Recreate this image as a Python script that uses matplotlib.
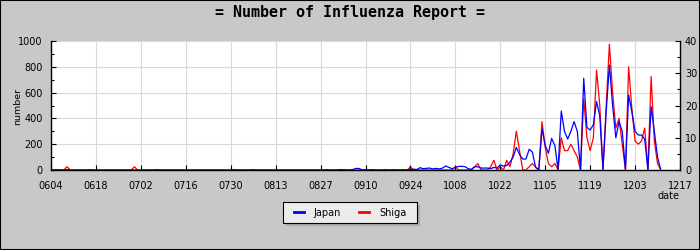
import matplotlib
matplotlib.use("Agg")
import matplotlib.pyplot as plt
import matplotlib.transforms as mtransforms
from matplotlib.patches import Rectangle
from matplotlib.lines import Line2D
import pandas as pd

# ---------------- data ----------------
start_date = "2009-06-04"
title = "= Number of Influenza Report ="
series_names = ["Japan", "Shiga"]
x_tick_labels = ["0604", "0618", "0702", "0716", "0730", "0813", "0827", "0910",
                 "0924", "1008", "1022", "1105", "1119", "1203", "1217"]
left_ticks = [0, 200, 400, 600, 800, 1000]
left_minor = [100, 300, 500, 700, 900]
right_ticks = [0, 10, 20, 30, 40]
right_minor = [5, 15, 25, 35]

japan = [
    0, 0, 3, 0, 0, 3, 0, 0, 0, 0,          # d0
    0, 0, 3, 0, 0, 0, 0, 0, 0, 0,          # d10
    0, 0, 0, 0, 0, 0, 0, 0, 0, 0,          # d20
    0, 0, 0, 3, 0, 0, 0, 0, 0, 0,          # d30
    0, 0, 0, 0, 0, 0, 0, 0, 0, 0,          # d40
    0, 0, 0, 0, 0, 0, 0, 3, 0, 0,          # d50
    0, 0, 0, 3, 0, 0, 0, 0, 0, 0,          # d60
    0, 0, 0, 0, 0, 0, 0, 0, 0, 0,          # d70
    0, 0, 0, 0, 0, 0, 3, 0, 0, 0,          # d80
    3, 3, 0, 0, 3, 12, 12, 0, 3, 0,        # d90
    3, 0, 0, 0, 3, 0, 0, 3, 0, 0,          # d100
    3, 0, 5, 6, 4, 18, 10, 13, 15, 8,      # d110
    13, 8, 15, 31, 20, 10, 20, 28, 28, 26,  # d120
    10, 5, 25, 25, 15, 15, 15, 10, 20, 15,  # d130
    40, 30, 35, 60, 100, 175, 120, 85, 85, 160,      # d140
    140, 20, 0, 318, 190, 130, 245, 190, 5, 457,     # d150
    300, 240, 300, 375, 300, 0, 711, 330, 310, 350,  # d160
    530, 420, 0, 450, 814, 500, 250, 375, 300, 0,    # d170
    581, 450, 300, 271, 271, 240, 0, 491, 300, 100,  # d180
    0,                                               # d190
]

shiga = [
    0, 0, 0, 0, 0, 1, 0, 0, 0, 0,   # d0
    0, 0, 0, 0, 0, 0, 0, 0, 0, 0,   # d10
    0, 0, 0, 0, 0, 0, 1, 0, 0, 0,   # d20
    0, 0, 0, 0, 0, 0, 0, 0, 0, 0,   # d30
    0, 0, 0, 0, 0, 0, 0, 0, 0, 0,   # d40
    0, 0, 0, 0, 0, 0, 0, 0, 0, 0,   # d50
    0, 0, 0, 0, 0, 0, 0, 0, 0, 0,   # d60
    0, 0, 0, 0, 0, 0, 0, 0, 0, 0,   # d70
    0, 0, 0, 0, 0, 0, 0, 0, 0, 0,   # d80
    0, 0, 0, 0, 0, 0, 0, 0, 0, 0,   # d90
    0, 0, 0, 0, 0, 0, 0, 0, 0, 0,   # d100
    0, 0, 1, 0, 0, 0, 0, 0, 0, 0,   # d110
    0, 0, 0, 0, 0, 0, 1, 0, 0, 0,   # d120
    0, 0, 1, 2, 0, 0, 0, 1, 3, 0,   # d130
    1, 0, 3, 1, 5, 12, 6, 0, 0, 1,  # d140
    2, 1, 0, 15, 7, 2, 1, 2, 0, 10,  # d150
    6, 6, 8, 6, 4, 0, 22, 10, 6, 10,  # d160
    31, 20, 0, 20, 39, 24, 13, 16, 8, 0,  # d170
    32, 19, 9, 8, 9, 13, 0, 29, 9, 2,  # d180
    0,                               # d190
]

# ---------------- figure ----------------
W, H = 700, 250
BG = "#c8c8c8"
GRID = "#d9d9d9"
plt.rcParams["font.family"] = ["DejaVu Sans"]

dates = pd.date_range(start_date, periods=len(japan), freq="D")
tick_dates = pd.to_datetime(["2009" + t for t in x_tick_labels], format="%Y%m%d")

fig = plt.figure(figsize=(W / 100, H / 100), dpi=100, facecolor=BG)
ax = fig.add_axes([51 / W, 1 - 170 / H, 629 / W, 129 / H])
ax2 = ax.twinx()

# layering: white background + grid + Shiga under, Japan on top
ax2.set_zorder(1)
ax.set_zorder(2)
ax.patch.set_visible(False)
ax2.patch.set_visible(True)
ax2.patch.set_facecolor("white")

# grid drawn in the lower axes
for td in tick_dates:
    ax2.axvline(td, color=GRID, lw=0.8, zorder=0.5)
hgrid_tr = mtransforms.blended_transform_factory(ax2.transAxes, ax.transData)
for v in left_ticks[1:]:
    ax2.add_artist(Line2D([0, 1], [v, v], transform=hgrid_tr, color=GRID,
                          lw=0.8, zorder=0.5, clip_on=False))

l2, = ax2.plot(dates, shiga, color="#ff0000", lw=0.9, zorder=2)
l1, = ax.plot(dates, japan, color="#0000ff", lw=0.9, zorder=2)

ax.set_xlim(tick_dates[0], tick_dates[-1])
ax.set_ylim(0, 1000)
ax2.set_ylim(0, 40)

ax.set_xticks(tick_dates)
ax.set_xticklabels(x_tick_labels)
ax.set_yticks(left_ticks)
ax.set_yticks(left_minor, minor=True)
ax2.set_yticks(right_ticks)
ax2.set_yticks(right_minor, minor=True)

ax.tick_params(axis="x", direction="in", length=3.6, width=0.8, labelsize=7, pad=8)
ax.tick_params(axis="y", which="major", direction="in", length=3.6, width=0.8,
               labelsize=7, pad=5.8)
ax.tick_params(axis="y", which="minor", direction="in", length=2.2, width=0.8)
ax2.tick_params(axis="y", which="major", direction="in", length=3.6, width=0.8,
                labelsize=7, pad=3.6)
ax2.tick_params(axis="y", which="minor", direction="in", length=2.2, width=0.8)

for s in ("top", "right"):
    ax.spines[s].set_visible(False)
for s in ("top", "left", "bottom"):
    ax2.spines[s].set_visible(False)
for a in (ax, ax2):
    for s in a.spines.values():
        s.set_linewidth(1.0)

# texts
fig.text(0.5, 1 - 17 / H, title, ha="center", va="baseline", fontsize=10.8,
         fontweight="bold", family="DejaVu Sans Mono")
fig.text(17.5 / W, 1 - 106 / H, "number", rotation=90, ha="center", va="center",
         fontsize=6.8)
fig.text(679 / W, 1 - 199 / H, "date", ha="right", va="baseline", fontsize=7)

# legend box with shadow
bx, by, bw, bh = 283, 202, 134, 21
fig.add_artist(Rectangle(((bx + 3) / W, 1 - (by + bh + 3) / H), bw / W, bh / H,
                         transform=fig.transFigure, facecolor="#ababab",
                         edgecolor="none", zorder=3))
fig.add_artist(Rectangle((bx / W, 1 - (by + bh) / H), bw / W, bh / H,
                         transform=fig.transFigure, facecolor="#ececec",
                         edgecolor="black", lw=0.8, zorder=4))
handles = [Line2D([], [], color=l1.get_color(), lw=2),
           Line2D([], [], color=l2.get_color(), lw=2)]
leg = fig.legend(handles=handles, labels=series_names, loc="center",
                 bbox_to_anchor=((bx + bw / 2) / W, 1 - (by + bh / 2) / H),
                 ncol=2, frameon=False, fontsize=7, handlelength=1.05,
                 handletextpad=1.0, columnspacing=1.85, borderpad=0.2)
leg.set_zorder(5)

# figure border
fig.add_artist(Rectangle((0, 0), 1, 1, transform=fig.transFigure, fill=False,
                         edgecolor="black", lw=1.5, zorder=10))

fig.savefig("out.png", dpi=100, facecolor=BG)
